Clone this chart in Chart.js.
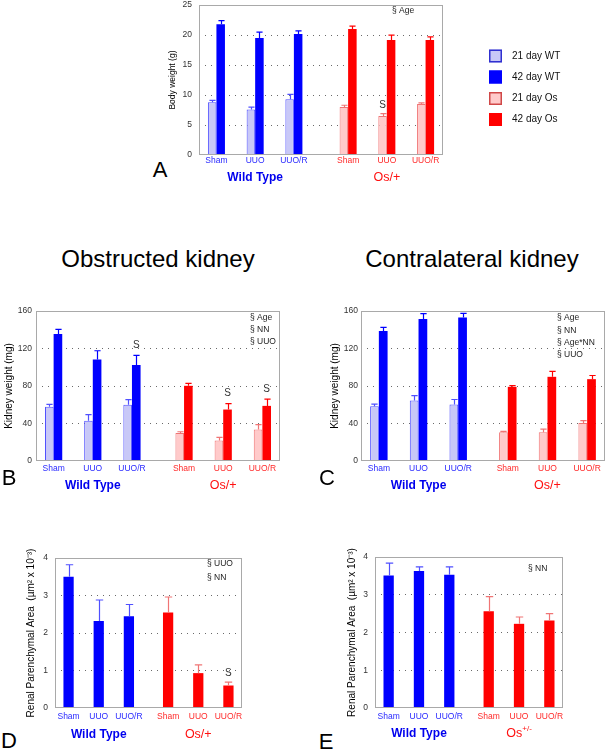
<!DOCTYPE html>
<html><head><meta charset="utf-8">
<script src="https://cdn.jsdelivr.net/npm/chart.js@4.4.0/dist/chart.umd.min.js"></script>
<style>
html,body{margin:0;padding:0;background:#fff;}
#page{position:relative;width:607px;height:750px;overflow:hidden;font-family:"Liberation Sans",Arial,sans-serif;}
canvas{position:absolute;}
.t{position:absolute;line-height:1;white-space:nowrap;color:#000;transform:translateX(-50%);}
</style></head><body><div id="page">
<canvas id="cA"></canvas><canvas id="cB"></canvas><canvas id="cC"></canvas><canvas id="cD"></canvas><canvas id="cE"></canvas>
<div class="t" style="left:158px;top:247px;font-size:24px">Obstructed kidney</div>
<div class="t" style="left:472px;top:247px;font-size:24px">Contralateral kidney</div>
<div class="t" style="left:160px;top:159px;font-size:22px">A</div>
<div class="t" style="left:9px;top:467px;font-size:22px">B</div>
<div class="t" style="left:327px;top:467px;font-size:22px">C</div>
<div class="t" style="left:9px;top:730px;font-size:22px">D</div>
<div class="t" style="left:326px;top:731px;font-size:22px">E</div>
</div>
<script>
// ---------- data ----------
const categories = ['Sham','UUO','UUO/R','Sham','UUO','UUO/R'];
const genotypeOfCategory = [0,0,0,1,1,1];
const genotypeLabels = ['Wild Type','Os/+'];
const genotypeLabelsE = ['Wild Type','Os'];
const genotypeSupE = ['','+/-'];
const legendLabels = ['21 day WT','42 day WT','21 day Os','42 day Os'];

const bodyWeight21    = [8.8, 7.6, 9.3, 8.0, 6.5, 8.5];
const bodyWeight21Err = [0.3, 0.4, 0.8, 0.3, 0.4, 0.2];
const bodyWeight42    = [21.8, 19.5, 20.2, 21.0, 19.2, 19.2];
const bodyWeight42Err = [0.6, 1.0, 0.5, 0.5, 0.8, 0.5];
const bodyWeightSig21 = [0,0,0,0,1,0];
const bodyWeightNotes = ['§ Age'];

const obstructed21    = [58, 43, 60, 30, 22, 33.5];
const obstructed21Err = [2.5, 6.5, 5.5, 1.2, 3.2, 5.3];
const obstructed42    = [135.4, 108.3, 102.3, 80.2, 54.9, 58.8];
const obstructed42Err = [5.0, 9.3, 10.3, 2.5, 6.4, 7.1];
const obstructedSig42 = [0,0,1,0,1,1];
const obstructedNotes = ['§ Age','§ NN','§ UUO'];

const contra21    = [58.4, 64.5, 60.2, 30.6, 30.6, 40.6];
const contra21Err = [2.2, 5.3, 5.4, 1.1, 3.3, 2.5];
const contra42    = [138.6, 151.5, 153.2, 79.1, 89.8, 87.3];
const contra42Err = [3.9, 5.7, 4.3, 1.4, 5.7, 3.9];
const contraNotes = ['§ Age','§ NN','§ Age*NN','§ UUO'];

const areaObstructed    = [3.50, 2.32, 2.45, 2.55, 0.93, 0.60];
const areaObstructedErr = [0.32, 0.56, 0.31, 0.41, 0.22, 0.09];
const areaObstructedSig = [0,0,0,0,0,1];
const areaObstructedNotes = ['§ UUO','§ NN'];

const areaContra    = [3.51, 3.63, 3.53, 2.56, 2.23, 2.32];
const areaContraErr = [0.33, 0.11, 0.21, 0.39, 0.18, 0.18];
const areaContraNotes = ['§ NN'];

// ---------- style ----------
const FONT = '"Liberation Sans", Arial, sans-serif';
const BLUE='#0000ff', RED='#ff0000';
const LBLUE='#c8c8f7', LRED='#ffcaca', BLUE_EDGE='#5050ff', RED_EDGE='#f07575';
const TICK_BLUE='#2a2aff', TICK_RED='#ff2a2a';
const byGeno = (a,b) => genotypeOfCategory.map(g => g===0 ? a : b);

function slots(gap){
  const p=[0.45,1.45,2.45];
  return {pos:p.concat([2.45+gap,3.45+gap,4.45+gap]), max:4.45+gap+0.45};
}

function panelPlugin(cfg, s){
  return {id:'panel'+cfg.id,
    afterDatasetsDraw(chart){
      const ctx=chart.ctx, a=chart.chartArea, ys=chart.scales.y, xs=chart.scales.x;
      ctx.save();
      // frame
      ctx.strokeStyle='#a9a9a9'; ctx.lineWidth=1;
      ctx.strokeRect(Math.round(a.left)+0.5, Math.round(a.top)+0.5, Math.round(a.right-a.left)-1, Math.round(a.bottom-a.top)-1);
      // error bars and significance marks
      chart.data.datasets.forEach((ds,di)=>{
        const meta=chart.getDatasetMeta(di);
        meta.data.forEach((bar,j)=>{
          const top=ys.getPixelForValue(ds.data[j].y+ds.errors[j]);
          const x=Math.round(bar.x)+0.5, cw=bar.width*0.36;
          ctx.strokeStyle=ds.errColor[j]; ctx.lineWidth=1.2;
          ctx.beginPath(); ctx.moveTo(x,bar.y); ctx.lineTo(x,top);
          ctx.moveTo(x-cw,top); ctx.lineTo(x+cw,top); ctx.stroke();
          if(ds.marks && ds.marks[j]){
            ctx.fillStyle='#333'; ctx.font='10px '+FONT; ctx.textAlign='center'; ctx.textBaseline='middle';
            ctx.fillText('S', bar.x, top-cfg.markGap);
          }
        });
      });
      // statistics notes
      ctx.fillStyle='#222'; ctx.font='8.5px '+FONT; ctx.textAlign='left'; ctx.textBaseline='middle';
      cfg.notes.forEach((n,i)=>ctx.fillText(n, a.left+cfg.noteX, a.top+cfg.noteY+i*cfg.noteDy));
      // genotype group labels
      [0,1].forEach(g=>{
        const idx=genotypeOfCategory.map((v,i)=>v===g?i:-1).filter(i=>i>=0);
        const cx=xs.getPixelForValue((s.pos[idx[0]]+s.pos[idx[idx.length-1]])/2);
        const y=a.bottom+cfg.groupDy;
        ctx.fillStyle = g===0 ? '#0000ee' : '#ff1010';
        ctx.font = (g===0?'bold 12px ':'12.5px ')+FONT;
        const main=cfg.groups[g], sup=cfg.groupSup ? cfg.groupSup[g] : '';
        const wMain=ctx.measureText(main).width;
        ctx.font='8px '+FONT; const wSup=sup?ctx.measureText(sup).width:0;
        const x0=cx-(wMain+wSup)/2;
        ctx.font=(g===0?'bold 12px ':'12.5px ')+FONT; ctx.textAlign='left';
        ctx.fillText(main,x0,y);
        if(sup){ctx.font='8px '+FONT; ctx.fillText(sup,x0+wMain,y-5);}
      });
      // legend
      if(cfg.legend){
        const ox=chart.canvas.offsetLeft, oy=chart.canvas.offsetTop;
        const fills=[LBLUE,BLUE,LRED,RED], edges=['#3030d0',BLUE,'#d04848',RED];
        const rowY=[56,77,98.5,119.5];
        legendLabels.forEach((l,i)=>{
          const y=rowY[i]-oy, x=489-ox;
          ctx.fillStyle=fills[i]; ctx.fillRect(x,y-6.5,13,13);
          ctx.strokeStyle=edges[i]; ctx.lineWidth=1.5; ctx.strokeRect(x+0.75,y-5.75,11.5,11.5);
          ctx.fillStyle='#111'; ctx.font='10px '+FONT; ctx.textAlign='left'; ctx.textBaseline='middle';
          ctx.fillText(l, 512-ox, y);
        });
      }
      ctx.restore();
    }};
}

function makePanel(cfg){
  const cv=document.getElementById(cfg.id), c=cfg.canvas, a=cfg.area;
  const W=c.r-c.l, H=c.b-c.t;
  cv.style.left=c.l+'px'; cv.style.top=c.t+'px';
  cv.width=W; cv.height=H; cv.style.width=W+'px'; cv.style.height=H+'px';
  const s=slots(cfg.gap);
  const datasets=cfg.series.map(sr=>({
    label:sr.label,
    data:s.pos.map((x,i)=>({x, y:sr.values[i]})),
    backgroundColor:sr.fill, borderColor:sr.edge, borderWidth:sr.bw,
    errors:sr.errors, errColor:sr.errColor, marks:sr.marks,
    categoryPercentage:cfg.catPct, barPercentage:1
  }));
  return new Chart(cv,{
    type:'bar',
    data:{datasets},
    options:{
      responsive:false, animation:false, devicePixelRatio:1,
      layout:{padding:{left:0, top:a.t-c.t, right:c.r-a.r, bottom:0}},
      plugins:{legend:{display:false}, tooltip:{enabled:false}},
      scales:{
        x:{type:'linear', min:0, max:s.max, offset:false,
          grid:{display:false, drawTicks:false}, border:{display:false},
          afterBuildTicks:sc=>{sc.ticks=s.pos.map(v=>({value:v}));},
          afterFit:sc=>{sc.height=c.b-a.b;},
          ticks:{autoSkip:false, maxRotation:0, minRotation:0, padding:cfg.xPad,
            font:{family:FONT,size:8.5},
            color:ctx=>genotypeOfCategory[ctx.index]===0?TICK_BLUE:TICK_RED,
            callback:(v,i)=>categories[i]}},
        y:{min:0, max:cfg.yMax,
          ticks:{stepSize:cfg.yStep, padding:cfg.yPad, font:{family:FONT,size:8.5}, color:'#333'},
          grid:{drawTicks:false, lineWidth:1,
            color:ctx=>(ctx.tick.value===0||ctx.tick.value===cfg.yMax)?'rgba(0,0,0,0)':'#6a6a6a'},
          border:{display:false, dash:[1,5]},
          title:{display:true, text:cfg.yTitle, color:'#000',
            font:{family:FONT,size:cfg.yTitleSize}, padding:{top:0,bottom:0}},
          afterFit:sc=>{sc.width=a.l-c.l;}}
      }
    },
    plugins:[panelPlugin(cfg,s)]
  });
}

function pairSeries(v21,e21,v42,e42,m21,m42){
  return [
    {label:'21 day', values:v21, errors:e21, fill:byGeno(LBLUE,LRED), edge:byGeno(BLUE_EDGE,RED_EDGE), bw:1, errColor:byGeno(BLUE_EDGE,RED_EDGE), marks:m21},
    {label:'42 day', values:v42, errors:e42, fill:byGeno(BLUE,RED), edge:byGeno(BLUE,RED), bw:0, errColor:byGeno(BLUE,RED), marks:m42}
  ];
}

makePanel({id:'cA', area:{l:199,t:5,r:443,b:155}, canvas:{l:168,t:-7,r:607,b:195},
  gap:1.4, catPct:0.44, yMax:25, yStep:5, yPad:7, xPad:1, yTitle:'Body weight (g)', yTitleSize:8.5,
  series:pairSeries(bodyWeight21,bodyWeight21Err,bodyWeight42,bodyWeight42Err,bodyWeightSig21,null),
  notes:bodyWeightNotes, noteX:193, noteY:6, noteDy:12, groups:genotypeLabels, groupDy:23, markGap:8, legend:true});

makePanel({id:'cB', area:{l:36,t:311,r:280,b:461}, canvas:{l:3,t:299,r:296,b:500},
  gap:1.33, catPct:0.44, yMax:160, yStep:40, yPad:4, xPad:3, yTitle:'Kidney weight (mg)', yTitleSize:10,
  series:pairSeries(obstructed21,obstructed21Err,obstructed42,obstructed42Err,null,obstructedSig42),
  notes:obstructedNotes, noteX:214, noteY:7, noteDy:12, groups:genotypeLabels, groupDy:25, markGap:10});

makePanel({id:'cC', area:{l:361,t:311,r:605,b:461}, canvas:{l:329,t:299,r:607,b:500},
  gap:1.25, catPct:0.44, yMax:160, yStep:40, yPad:3, xPad:3, yTitle:'Kidney weight (mg)', yTitleSize:10,
  series:pairSeries(contra21,contra21Err,contra42,contra42Err,null,null),
  notes:contraNotes, noteX:196, noteY:7, noteDy:12.3, groups:genotypeLabels, groupDy:25, markGap:10});

makePanel({id:'cD', area:{l:55,t:558,r:242,b:708}, canvas:{l:25,t:543,r:252,b:750},
  gap:1.3, catPct:0.34, yMax:4, yStep:1, yPad:7, xPad:4, yTitle:'Renal Parenchymal Area  (µm² x 10⁻³)', yTitleSize:10,
  series:[{label:'area', values:areaObstructed, errors:areaObstructedErr, fill:byGeno(BLUE,RED), edge:byGeno(BLUE,RED), bw:0, errColor:byGeno(BLUE_EDGE,RED_EDGE), marks:areaObstructedSig}],
  notes:areaObstructedNotes, noteX:152, noteY:6, noteDy:14, groups:genotypeLabels, groupDy:27, markGap:9});

makePanel({id:'cE', area:{l:375,t:557,r:563,b:708}, canvas:{l:346,t:542,r:607,b:750},
  gap:1.3, catPct:0.34, yMax:4, yStep:1, yPad:7, xPad:4, yTitle:'Renal Parenchymal Area  (µm² x 10⁻³)', yTitleSize:10,
  series:[{label:'area', values:areaContra, errors:areaContraErr, fill:byGeno(BLUE,RED), edge:byGeno(BLUE,RED), bw:0, errColor:byGeno(BLUE_EDGE,RED_EDGE), marks:null}],
  notes:areaContraNotes, noteX:153, noteY:12, noteDy:14, groups:genotypeLabelsE, groupSup:genotypeSupE, groupDy:26, markGap:9});
</script>
</body></html>
